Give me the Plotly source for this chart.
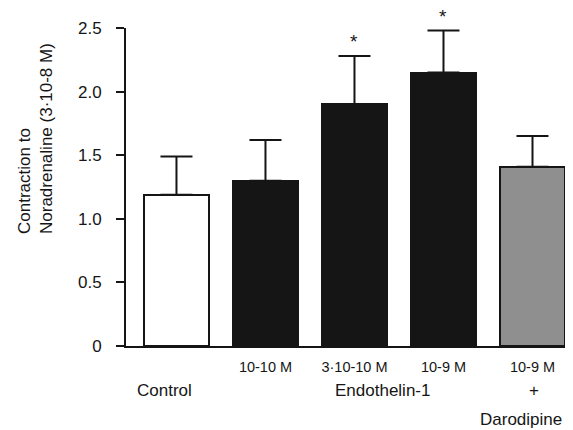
import plotly.graph_objects as go

# ---- data ----
dose_labels = ["", "10-10 M", "3\u00b710-10 M", "10-9 M", "10-9 M"]
values = [1.19, 1.30, 1.90, 2.15, 1.41]
errors = [0.30, 0.32, 0.38, 0.33, 0.24]
significant = [False, False, True, True, False]
bar_colors = ["#ffffff", "#151515", "#151515", "#151515", "#8f8f8f"]
outline_colors = ["#151515", "#151515", "#151515", "#151515", "#151515"]
y_ticks = [0, 0.5, 1.0, 1.5, 2.0, 2.5]
y_tick_text = ["0", "0.5", "1.0", "1.5", "2.0", "2.5"]
group_labels = ["Control", "Endothelin-1", "+", "Darodipine"]
y_title = "Contraction to<br>Noradrenaline (3\u00b710-8 M)"

FONT = "Liberation Sans, Arial, Helvetica, sans-serif"
INK = "#151515"

x = list(range(len(values)))

fig = go.Figure()
fig.add_trace(go.Bar(
    x=x, y=values, width=0.74,
    marker=dict(color=bar_colors, line=dict(color=outline_colors, width=2)),
    error_y=dict(type="data", array=errors, arrayminus=[0] * len(errors),
                 symmetric=False, color=INK, thickness=2, width=16),
    showlegend=False,
))

annotations = []
# significance asterisks
for xi, v, e, s in zip(x, values, errors, significant):
    if s:
        annotations.append(dict(x=xi, y=v + e, xref="x", yref="y", text="*",
                                showarrow=False, yanchor="middle", yshift=14,
                                borderpad=0,
                                font=dict(family=FONT, size=19, color=INK)))

# group labels under the axis
group_pos = [(-0.13, -0.14), (2.32, -0.14), (4.02, -0.14), (3.87, -0.232)]
for lbl, (gx, gy) in zip(group_labels, group_pos):
    annotations.append(dict(x=gx, y=gy, xref="x", yref="paper", text=lbl,
                            showarrow=False, xanchor="center", yanchor="middle",
                            borderpad=0,
                            font=dict(family=FONT, size=17, color=INK)))

# y-axis title (left aligned lines)
annotations.append(dict(x=-0.2013, y=0.651, xref="paper", yref="paper",
                        text=y_title, textangle=-90, align="left",
                        showarrow=False, xanchor="center", yanchor="middle",
                        font=dict(family=FONT, size=17, color=INK)))

# page has an 8px body margin, so the figure is 8px smaller than the window
fig.update_layout(
    width=565, height=422,
    margin=dict(l=118, r=0, t=20, b=84),
    paper_bgcolor="white", plot_bgcolor="white",
    bargap=0,
    annotations=annotations,
    xaxis=dict(range=[-0.567, 4.455], tickvals=x, ticktext=dose_labels,
               showline=True, linecolor=INK, linewidth=2,
               ticks="outside", ticklen=7, tickcolor="rgba(0,0,0,0)",
               showgrid=False, zeroline=False,
               tickfont=dict(family=FONT, size=14.5, color=INK)),
    yaxis=dict(range=[0, 2.5], tickvals=y_ticks, ticktext=y_tick_text,
               showline=True, linecolor=INK, linewidth=2,
               ticks="outside", ticklen=8, tickwidth=2, tickcolor=INK,
               ticklabelstandoff=11,
               showgrid=False, zeroline=False,
               tickfont=dict(family=FONT, size=17, color=INK)),
)

fig.write_html("out.html")
